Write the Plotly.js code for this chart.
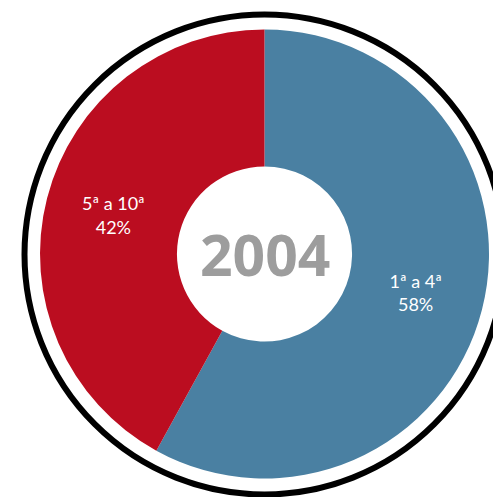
<!DOCTYPE html>
<html>
<head>
<meta charset="utf-8">
<script src="https://cdn.plot.ly/plotly-3.0.1.min.js"></script>
<style>html,body{margin:0;padding:0;background:#fff;}#chart{width:493px;height:497px;}</style>
</head>
<body>
<div id="chart"></div>
<script>
const categories = ['1ª a 4ª', '5ª a 10ª'];
const shares = [58, 42];
const sliceColors = ['#4a80a2', '#bb0d20'];
const centerLabel = '2004';

const W = 493, H = 497;
const cx = 264.5, cy = 254, r = 224.5;
const ringR = 240, ringCy = 254.5;

const trace = {
  type: 'pie',
  labels: categories,
  values: shares,
  sort: false,
  direction: 'clockwise',
  rotation: 0,
  hole: 0.39,
  marker: {colors: sliceColors, line: {width: 0}},
  texttemplate: '%{label}<br>%{percent:.0%}',
  textposition: 'inside',
  insidetextorientation: 'horizontal',
  textfont: {family: 'Lato, sans-serif', size: 18, color: '#ffffff'},
  hoverinfo: 'none',
  showlegend: false,
  domain: {
    x: [(cx - r) / W, (cx + r) / W],
    y: [(H - cy - r) / H, (H - cy + r) / H]
  }
};

const layout = {
  width: W, height: H,
  margin: {l: 0, r: 0, t: 0, b: 0},
  paper_bgcolor: '#ffffff',
  showlegend: false,
  shapes: [{
    type: 'circle', xref: 'paper', yref: 'paper',
    x0: (cx - ringR) / W, x1: (cx + ringR) / W,
    y0: (H - ringCy - ringR) / H, y1: (H - ringCy + ringR) / H,
    line: {color: '#000000', width: 6}, fillcolor: 'rgba(0,0,0,0)', layer: 'above'
  }],
  annotations: [{
    text: centerLabel, xref: 'paper', yref: 'paper',
    x: cx / W, y: (H - cy) / H, xanchor: 'center', yanchor: 'middle',
    showarrow: false,
    font: {family: 'Open Sans, sans-serif', size: 57, color: '#9d9d9d', weight: 700}
  }]
};

Plotly.newPlot('chart', [trace], layout, {displayModeBar: false, staticPlot: true});
</script>
</body>
</html>
